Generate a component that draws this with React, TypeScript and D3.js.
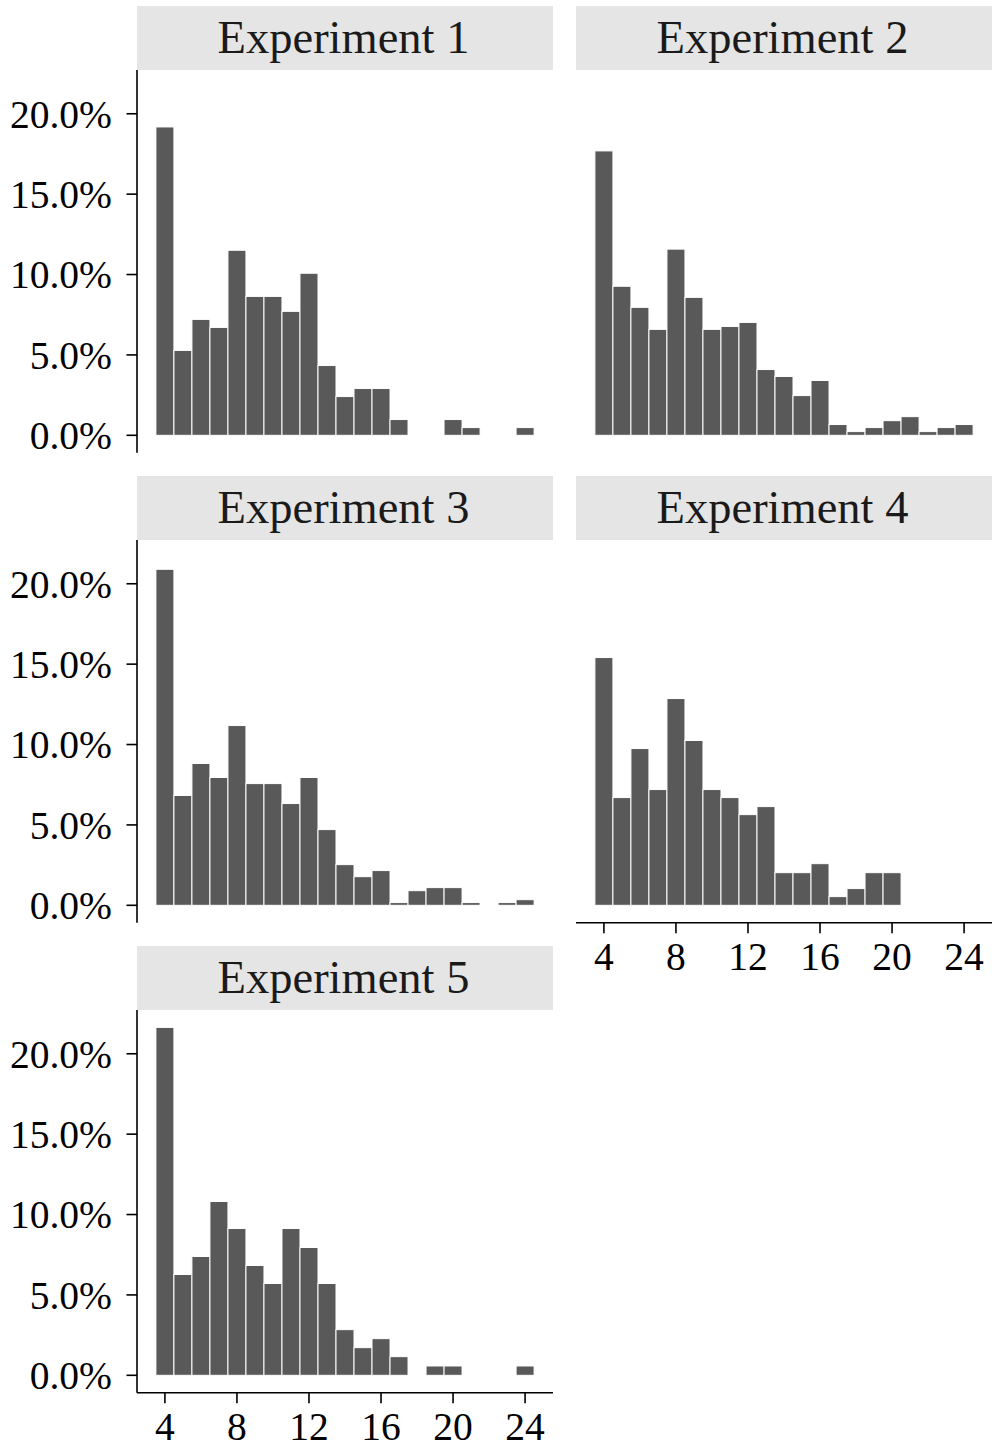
import React from "react";
import * as d3 from "d3";

// Share of participants per integer value (percent), bins 4..24
const bins = d3.range(4, 25);
const exp1 = [19.18, 5.28, 7.21, 6.71, 11.51, 8.64, 8.64, 7.71, 10.08, 4.34, 2.41, 2.91, 2.91, 0.98, 0, 0, 0.98, 0.48, 0, 0, 0.48];
const exp2 = [17.69, 9.27, 7.96, 6.59, 11.58, 8.58, 6.59, 6.77, 7.02, 4.09, 3.66, 2.47, 3.41, 0.67, 0.23, 0.48, 0.91, 1.16, 0.23, 0.48, 0.67];
const exp3 = [20.9, 6.83, 8.82, 7.95, 11.18, 7.57, 7.57, 6.33, 7.95, 4.71, 2.53, 1.78, 2.16, 0.17, 0.91, 1.1, 1.1, 0.17, 0, 0.17, 0.35];
const exp4 = [15.41, 6.7, 9.75, 7.2, 12.86, 10.25, 7.2, 6.7, 5.64, 6.14, 2.03, 2.03, 2.59, 0.54, 1.04, 2.03, 2.03, 0, 0, 0, 0];
const exp5 = [21.64, 6.27, 7.39, 10.81, 9.13, 6.83, 5.71, 9.13, 7.95, 5.71, 2.84, 1.72, 2.28, 1.16, 0, 0.58, 0.58, 0, 0, 0, 0.58];

const panelTitles = ["Experiment 1", "Experiment 2", "Experiment 3", "Experiment 4", "Experiment 5"];
const panelValues = [exp1, exp2, exp3, exp4, exp5];
const xTicks = [4, 8, 12, 16, 20, 24];
const yTicks = [0, 5, 10, 15, 20];

const W = 992;
const H = 1447;
const FONT = "'Liberation Serif', 'Times New Roman', serif";
const colLeft = [137, 576];
const panelW = 416;
const stripTop0 = 6;
const stripH = 64;
const panelH = 382.7;
const rowPitch = 470;

export default function App() {
  const yMax = d3.max(panelValues.flat()) as number;
  const x = d3
    .scaleLinear()
    .domain([3.5 - 21 * 0.05, 24.5 + 21 * 0.05])
    .range([0, panelW]);
  const y = d3
    .scaleLinear()
    .domain([-yMax * 0.05, yMax * 1.05])
    .range([panelH, 0]);

  const panels = panelValues.map((vals, i) => {
    const col = i % 2;
    const row = Math.floor(i / 2);
    const left = colLeft[col];
    const stripTop = stripTop0 + row * rowPitch;
    const top = stripTop + stripH;
    const showY = col === 0;
    const showX = i === 3 || i === 4;
    return (
      <g key={i}>
        <rect x={left} y={stripTop} width={panelW} height={stripH} fill="#e5e5e5" />
        <text
          x={left + panelW / 2 - 1.5}
          y={stripTop + 47.3}
          textAnchor="middle"
          fontFamily={FONT}
          fontSize={46.5}
          fill="#1a1a1a"
        >
          {panelTitles[i]}
        </text>
        <g transform={`translate(${left},${top})`}>
          {vals.map((v, j) =>
            v > 0 ? (
              <rect
                key={j}
                x={x(bins[j] - 0.5)}
                y={y(v)}
                width={x(bins[j] + 0.5) - x(bins[j] - 0.5)}
                height={y(0) - y(v)}
                fill="#595959"
                stroke="#ffffff"
                strokeWidth={1}
              />
            ) : null
          )}
          {showY && (
            <g>
              <line x1={0} x2={0} y1={0} y2={panelH} stroke="#000" strokeWidth={1.6} />
              {yTicks.map((t) => (
                <g key={t} transform={`translate(0,${y(t)})`}>
                  <line x1={-10.5} x2={0} stroke="#000" strokeWidth={1.6} />
                  <text
                    x={-25}
                    dy="0.35em"
                    textAnchor="end"
                    fontFamily={FONT}
                    fontSize={39.5}
                    fill="#000"
                  >
                    {`${t.toFixed(1)}%`}
                  </text>
                </g>
              ))}
            </g>
          )}
          {showX && (
            <g transform={`translate(0,${panelH})`}>
              <line x1={0} x2={panelW} y1={0} y2={0} stroke="#000" strokeWidth={1.6} />
              {xTicks.map((t) => (
                <g key={t} transform={`translate(${x(t)},0)`}>
                  <line y1={0} y2={10.5} stroke="#000" strokeWidth={1.6} />
                  <text
                    y={47.5}
                    textAnchor="middle"
                    fontFamily={FONT}
                    fontSize={39.5}
                    fill="#000"
                  >
                    {t}
                  </text>
                </g>
              ))}
            </g>
          )}
        </g>
      </g>
    );
  });

  return (
    <svg
      width={W}
      height={H}
      viewBox={`0 0 ${W} ${H}`}
      style={{ position: "absolute", left: 0, top: 0, background: "#fff" }}
    >
      <rect width={W} height={H} fill="#fff" />
      {panels}
    </svg>
  );
}
